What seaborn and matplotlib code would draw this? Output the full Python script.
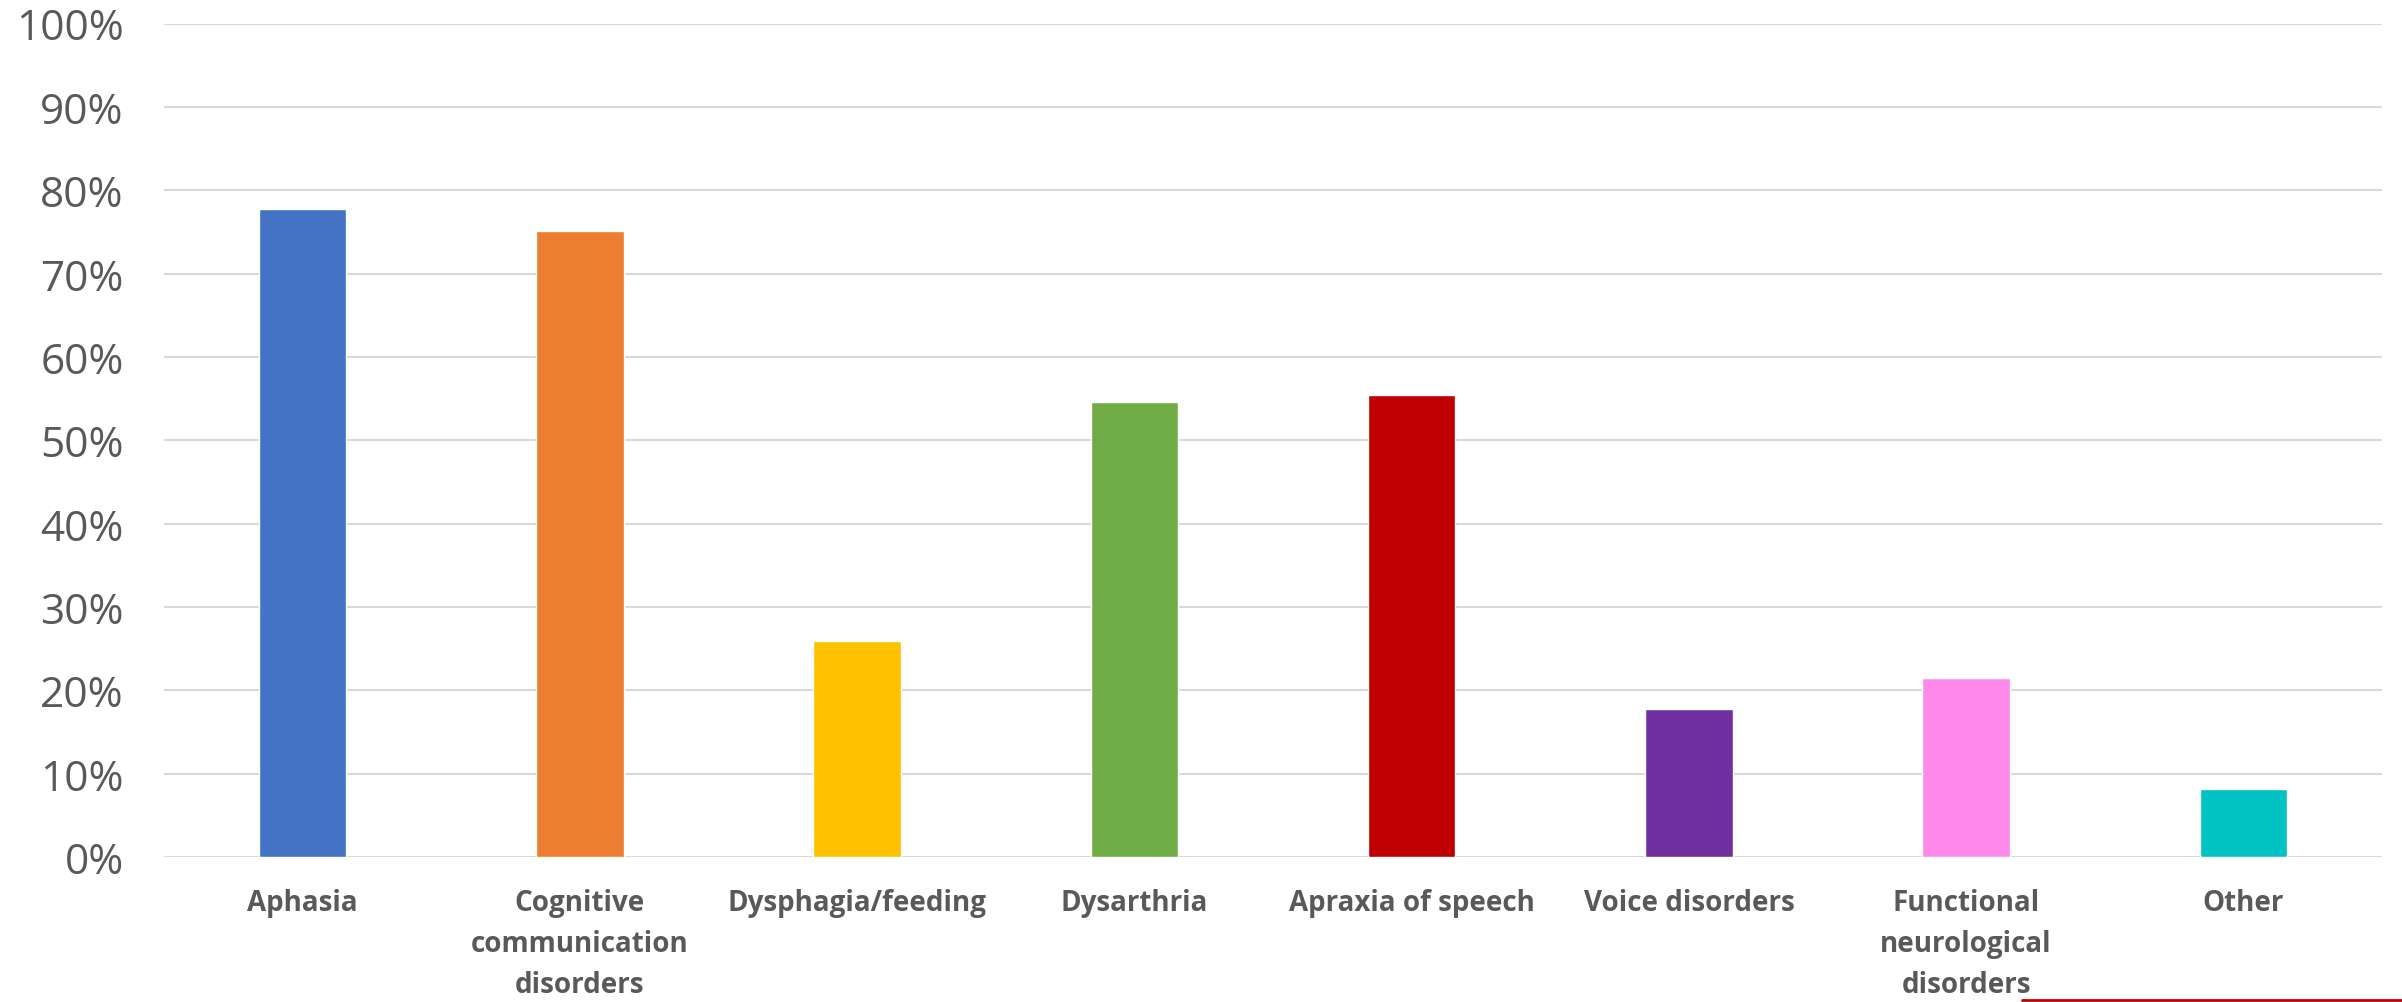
import numpy as np
import pandas as pd
import matplotlib
matplotlib.use("Agg")
import matplotlib.pyplot as plt
import seaborn as sns
from matplotlib.lines import Line2D
from matplotlib.ticker import PercentFormatter

# --------------------------------------------------
# DATA
# --------------------------------------------------

categories = [
    "Aphasia",
    "Cognitive\ncommunication\ndisorders",
    "Dysphagia/feeding",
    "Dysarthria",
    "Apraxia of speech",
    "Voice disorders",
    "Functional\nneurological\ndisorders",
    "Other",
]

values = [0.777, 0.751, 0.259, 0.546, 0.554, 0.178, 0.215, 0.081]

colors = [
    "#4472C4", "#ED7D31", "#FFC000", "#70AD47",
    "#C00000", "#7030A0", "#FF89EA", "#00C2C2",
]

y_ticks = np.arange(0, 1.01, 0.1)

df = pd.DataFrame({"Category": categories, "Value": values})

# --------------------------------------------------
# PLOT
# --------------------------------------------------

sns.set_style("white")
plt.rcParams["font.family"] = ["Open Sans", "DejaVu Sans"]

fig = plt.figure(figsize=(24.02, 10.03), dpi=100)
ax = fig.add_axes([164 / 2402, 1 - 858 / 1003, (2382 - 164) / 2402, (858 - 24.5) / 1003])

sns.barplot(
    data=df,
    x="Category",
    y="Value",
    hue="Category",
    palette=colors,
    legend=False,
    width=0.315,
    saturation=1,
    ax=ax,
    zorder=3,
)

ax.set_ylim(0, 1)
ax.set_xlim(-0.5, len(categories) - 0.5)
ax.set_yticks(y_ticks)
ax.yaxis.set_major_formatter(PercentFormatter(1.0, decimals=0))
ax.grid(axis="y", color="#d9d9d9", linewidth=1.5, zorder=0)
ax.set_axisbelow(True)

for s in ax.spines.values():
    s.set_visible(False)

ax.tick_params(axis="y", length=0, pad=29, labelsize=30.5, labelcolor="#595959")
ax.tick_params(axis="x", length=0, pad=22, labelsize=20, labelcolor="#595959")
for lab in ax.get_xticklabels():
    lab.set_fontweight("bold")
    lab.set_linespacing(1.55)

ax.set_xlabel("")
ax.set_ylabel("")

fig.add_artist(Line2D([2022 / 2402, 1], [0.0015, 0.0015], color="#C00000", lw=2))

plt.savefig("out.png", dpi=100)
plt.close()
